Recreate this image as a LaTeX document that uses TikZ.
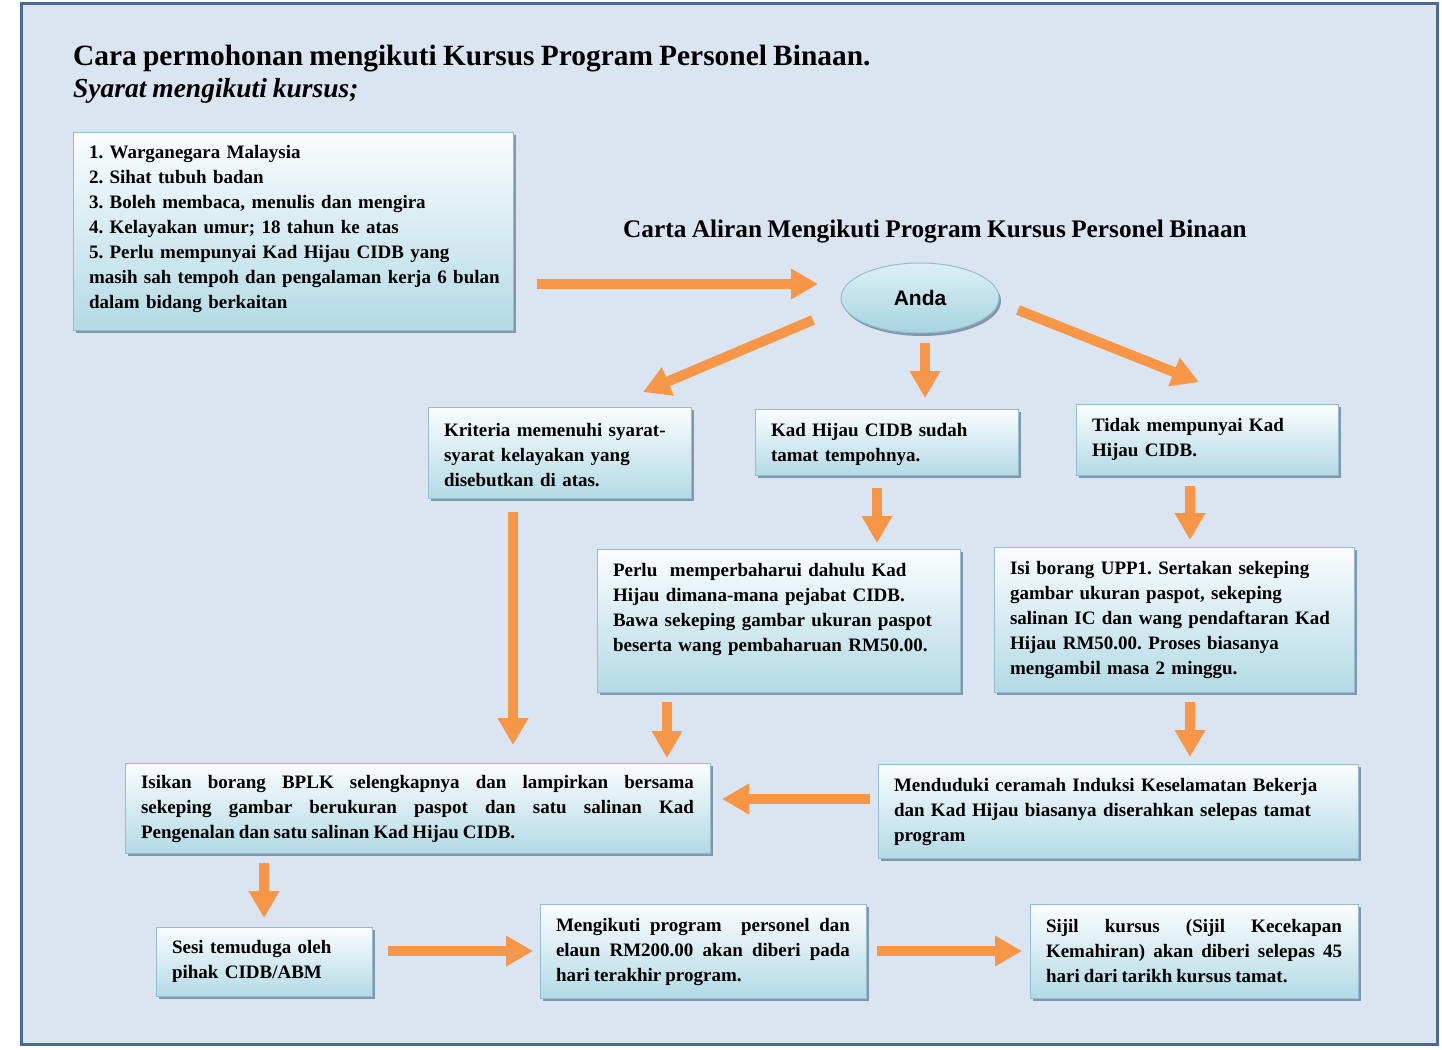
\documentclass[tikz,border=0pt]{standalone}
\usepackage{fontspec}
\setmainfont{Liberation Serif}[WordSpace=0.85]
\newfontfamily\andafont{Liberation Sans}
\usetikzlibrary{arrows.meta}
\usetikzlibrary{shapes.geometric}
\usetikzlibrary{shadows}
\hyphenpenalty=10000
\exhyphenpenalty=10000
\frenchspacing

\definecolor{framebg}{HTML}{DBE5F1}
\definecolor{frameline}{HTML}{4A6A94}
\definecolor{boxtop}{HTML}{FBFDFE}
\definecolor{boxbot}{HTML}{B3DAE6}
\definecolor{boxline}{HTML}{93BDD0}
\definecolor{andatop}{HTML}{DDF0F5}
\definecolor{andabot}{HTML}{A7D4E1}
\definecolor{flowor}{HTML}{F79646}
\definecolor{shadowc}{HTML}{8397AA}

\tikzset{
  infobox/.style={draw=boxline, line width=1pt, top color=boxtop, bottom color=boxbot,
    anchor=north west, inner xsep=16pt, inner ysep=0pt, outer sep=0pt, align=left,
    font=\bfseries\fontsize{19}{25}\selectfont,
    drop shadow={shadow xshift=3pt, shadow yshift=-3pt, fill=shadowc, opacity=1}},
  justbox/.style={infobox, align=justify},
  dims/.style n args={3}{text width=#1pt, text height=#2pt, text depth=#3pt},
  andanode/.style={ellipse, draw=boxline, line width=1pt, top color=andatop,
    bottom color=andabot, minimum width=158pt, minimum height=70pt,
    inner sep=0pt, outer sep=0pt, font=\andafont\bfseries\fontsize{21}{25}\selectfont,
    drop shadow={shadow xshift=2pt, shadow yshift=-3pt, fill=shadowc, opacity=1}},
  flow/.style={draw=flowor, line width=10pt, -{Triangle[width=29pt,length=27pt]}},
  heading/.style={anchor=base west, inner sep=0pt}
}

\begin{document}
\begin{tikzpicture}[x=1pt, y=-1pt]
  \useasboundingbox (0,0) rectangle (1442,1049);
  \fill[white] (0,0) rectangle (1442,1049);
  \draw[frameline, line width=3pt, fill=framebg] (21,4) rectangle (1437,1044);

  \node[heading, font=\bfseries\fontsize{29.4}{34}\selectfont] (title) at (73,66) {Cara permohonan mengikuti Kursus Program Personel Binaan.};
  \node[heading, font=\bfseries\itshape\fontsize{27.5}{32}\selectfont] (syarat) at (73,97) {Syarat mengikuti kursus;};
  \node[heading, font=\bfseries\fontsize{25.3}{28}\selectfont] (carta) at (623,237) {Carta Aliran Mengikuti Program Kursus Personel Binaan};

  \node[infobox, dims={408}{26}{172}] (req) at (73,132) {1. Warganegara Malaysia\\2. Sihat tubuh badan\\3. Boleh membaca, menulis dan mengira\\4. Kelayakan umur; 18 tahun ke atas\\5. Perlu mempunyai Kad Hijau CIDB yang\\\mbox{masih sah tempoh dan pengalaman kerja 6 bulan}\\dalam bidang berkaitan};
  \node[andanode] (anda) at (920,298) {Anda};
  \node[infobox, dims={231}{29}{62}] (krit) at (428,407) {Kriteria memenuhi syarat-\\syarat kelayakan yang\\disebutkan di atas.};
  \node[infobox, dims={231}{27}{39}] (kad) at (755,409) {Kad Hijau CIDB sudah\\tamat tempohnya.};
  \node[infobox, dims={230}{27}{44}] (tidak) at (1076,404) {Tidak mempunyai Kad\\Hijau CIDB.};
  \node[infobox, dims={331}{27}{116}] (perlu) at (597,549) {Perlu\ \ memperbaharui dahulu Kad\\Hijau dimana-mana pejabat CIDB.\\Bawa sekeping gambar ukuran paspot\\beserta wang pembaharuan RM50.00.};
  \node[infobox, dims={328}{27}{118}] (isi) at (994,547) {Isi borang UPP1. Sertakan sekeping\\gambar ukuran paspot, sekeping\\salinan IC dan wang pendaftaran Kad\\Hijau RM50.00. Proses biasanya\\mengambil masa 2 minggu.};
  \node[justbox, dims={553}{25}{65}] (isikan) at (125,763) {Isikan borang BPLK selengkapnya dan lampirkan bersama\linebreak sekeping gambar berukuran paspot dan satu salinan Kad\linebreak Pengenalan dan satu salinan Kad Hijau CIDB.};
  \node[infobox, dims={448}{27}{67}] (mendu) at (878,764) {Menduduki ceramah Induksi Keselamatan Bekerja\\dan Kad Hijau biasanya diserahkan selepas tamat\\program};
  \node[infobox, dims={184}{26}{43}] (sesi) at (156,927) {Sesi temuduga oleh\\pihak CIDB/ABM};
  \node[justbox, dims={294}{27}{67}] (ikut) at (540,904) {Mengikuti program\ \ personel dan\linebreak elaun RM200.00 akan diberi pada\linebreak hari terakhir program.};
  \node[justbox, dims={296}{28}{66}] (sijil) at (1030,904) {Sijil kursus (Sijil Kecekapan\linebreak Kemahiran) akan diberi selepas 45\linebreak hari dari tarikh kursus tamat.};

  \draw[flow, shorten <=24pt, shorten >=23pt] ([yshift=14pt]anda.west -| req.east) -- ([yshift=14pt]anda.west);
  \draw[flow] ([shift={(-28,22)}]anda.west) -- ([shift={(83.5,-15)}]krit.north);
  \draw[flow, shorten <=10pt, shorten >=11pt] ([xshift=5pt]anda.south) -- ([xshift=5pt]anda.south |- kad.north);
  \draw[flow] ([shift={(19,12)}]anda.east) -- ([shift={(-8,-22)}]tidak.north);
  \draw[flow, shorten <=14pt, shorten >=18pt] ([xshift=-46.5pt]krit.south) -- ([xshift=-46.5pt]krit.south |- isikan.north);
  \draw[flow, shorten <=13pt, shorten >=6pt] ([xshift=-9.5pt]kad.south) -- ([xshift=-9.5pt]kad.south |- perlu.north);
  \draw[flow, shorten <=11pt, shorten >=7pt] ([xshift=-17pt]tidak.south) -- ([xshift=-17pt]tidak.south |- isi.north);
  \draw[flow, shorten <=10pt, shorten >=5pt] ([xshift=-111.5pt]perlu.south) -- ([xshift=-111.5pt]perlu.south |- isikan.north);
  \draw[flow, shorten <=10pt, shorten >=7pt] ([xshift=16pt]isi.south) -- ([xshift=16pt]isi.south |- mendu.north);
  \draw[flow, shorten <=8pt, shorten >=12pt] ([yshift=12pt]mendu.west) -- ([yshift=12pt]mendu.west -| isikan.east);
  \draw[flow, shorten <=10pt, shorten >=9pt] (sesi.north |- isikan.south) -- (sesi.north);
  \draw[flow, shorten <=16pt, shorten >=7pt] (sesi.east |- ikut.west) -- (ikut.west);
  \draw[flow, shorten <=11pt, shorten >=8pt] (ikut.east) -- (sijil.west);
\end{tikzpicture}
\end{document}
